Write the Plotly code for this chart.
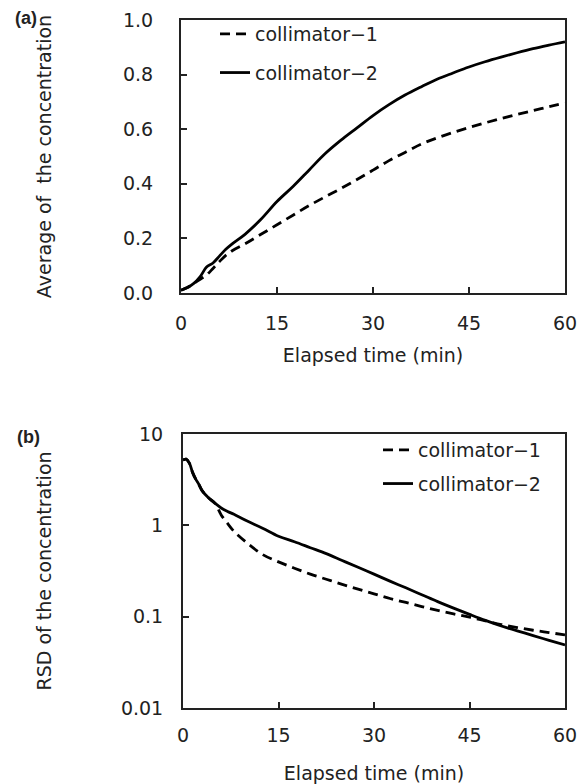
import plotly.graph_objects as go

# ---- data ----
t_avg = [0, 1, 2, 3, 4, 5, 6, 7, 8, 10, 12.5, 15, 17.5, 20, 22.5, 25, 27.5, 30,
         32.5, 35, 37.5, 40, 42.5, 45, 47.5, 50, 52.5, 55, 57.5, 60]
avg_c1 = [0.01, 0.02, 0.035, 0.05, 0.066, 0.09, 0.115, 0.138, 0.155, 0.18, 0.215, 0.25,
          0.285, 0.32, 0.352, 0.383, 0.416, 0.45, 0.485, 0.515, 0.545, 0.568, 0.588, 0.606,
          0.623, 0.639, 0.654, 0.668, 0.682, 0.696]
avg_c2 = [0.01, 0.02, 0.035, 0.06, 0.095, 0.11, 0.135, 0.16, 0.18, 0.215, 0.27, 0.335,
          0.39, 0.45, 0.51, 0.56, 0.605, 0.65, 0.69, 0.725, 0.755, 0.783, 0.806, 0.828,
          0.847, 0.864, 0.88, 0.895, 0.908, 0.92]

t_rsd = [0, 0.5, 1, 1.5, 2, 2.5, 3, 4, 5, 6, 7, 8, 10, 12.5, 15, 17.5, 20, 22.5, 25,
         27.5, 30, 32.5, 35, 37.5, 40, 42.5, 45, 47.5, 50, 52.5, 55, 57.5, 60]
rsd_c1 = [5.2, 5.3, 4.8, 3.8, 3.2, 2.8, 2.4, 2.0, 1.75, 1.3, 1.05, 0.86, 0.646, 0.479,
          0.398, 0.339, 0.292, 0.257, 0.226, 0.2, 0.178, 0.158, 0.143, 0.129, 0.117,
          0.107, 0.099, 0.09, 0.082, 0.076, 0.071, 0.067, 0.063]
rsd_c2 = [5.2, 5.3, 4.8, 3.8, 3.2, 2.8, 2.4, 2.0, 1.75, 1.55, 1.42, 1.32, 1.12, 0.93,
          0.759, 0.661, 0.569, 0.49, 0.412, 0.347, 0.292, 0.245, 0.207, 0.174, 0.146,
          0.124, 0.106, 0.091, 0.079, 0.07, 0.062, 0.055, 0.049]

series_names = ["collimator\u22121", "collimator\u22122"]
x_ticks = [0, 15, 30, 45, 60]
avg_ticks = [0.0, 0.2, 0.4, 0.6, 0.8, 1.0]
avg_ticktext = ["0.0", "0.2", "0.4", "0.6", "0.8", "1.0"]
rsd_ticks = [0.01, 0.1, 1, 10]
rsd_ticktext = ["0.01", "0.1", "1", "10"]

FONT = "DejaVu Sans, Liberation Sans, Arial, sans-serif"
OFF = 8  # page body margin
W, H = 586 - OFF, 784 - OFF


def px(sx):
    return (sx - OFF) / W


def py(sy):
    return 1 - (sy - OFF) / H


fig = go.Figure()
styles = [dict(dash="10px,6px"), dict(dash="solid")]
for name, ys, st, g in zip(series_names, [avg_c1, avg_c2], styles, ["a1", "a2"]):
    fig.add_trace(go.Scatter(x=t_avg, y=ys, mode="lines", name=name, legendgroup=g,
                             line=dict(color="black", width=2.8, shape="spline", **st),
                             xaxis="x", yaxis="y", legend="legend"))
for name, ys, st, g in zip(series_names, [rsd_c1, rsd_c2], styles, ["b1", "b2"]):
    fig.add_trace(go.Scatter(x=t_rsd, y=ys, mode="lines", name=name, legendgroup=g,
                             line=dict(color="black", width=2.8, shape="spline", **st),
                             xaxis="x2", yaxis="y2", legend="legend2"))

axis_common = dict(showline=True, linecolor="#222", linewidth=2, mirror=True,
                   ticks="inside", ticklen=6, tickwidth=2, tickcolor="#222",
                   showgrid=False, zeroline=False, automargin=False,
                   tickfont=dict(family=FONT, size=19, color="#222"))
title_font = dict(size=19, family=FONT, color="#222")
label_font = dict(family="Liberation Sans, Arial, sans-serif", size=18, color="#222")

fig.update_layout(
    width=W, height=H, margin=dict(l=0, r=0, t=0, b=0),
    paper_bgcolor="white", plot_bgcolor="white",
    font=dict(family=FONT, color="#222"),
    xaxis=dict(domain=[px(181), px(565)], anchor="y", range=[0, 60], tickvals=x_ticks,
               ticklabelstandoff=12,
               title=dict(text="Elapsed time (min)", font=title_font, standoff=16),
               **axis_common),
    yaxis=dict(domain=[py(293), py(20)], anchor="x", range=[0, 1.0],
               tickvals=avg_ticks, ticktext=avg_ticktext, ticklabelstandoff=22,
               title=dict(text="Average of  the concentration", font=title_font, standoff=66),
               **axis_common),
    xaxis2=dict(domain=[px(183), px(565)], anchor="y2", range=[0, 60], tickvals=x_ticks,
                ticklabelstandoff=9,
                title=dict(text="Elapsed time (min)", font=title_font, standoff=23),
                **axis_common),
    yaxis2=dict(domain=[py(708), py(434)], anchor="x2", type="log", range=[-2, 1],
                tickvals=rsd_ticks, ticktext=rsd_ticktext, ticklabelstandoff=14,
                title=dict(text="RSD of the concentration", font=title_font, standoff=64),
                **axis_common),
    legend=dict(x=px(215), y=py(15), xanchor="left", yanchor="top",
                bgcolor="rgba(0,0,0,0)", tracegroupgap=11,
                font=dict(family=FONT, size=19, color="#222")),
    legend2=dict(x=px(378), y=py(431), xanchor="left", yanchor="top",
                 bgcolor="rgba(0,0,0,0)", tracegroupgap=6,
                 font=dict(family=FONT, size=19, color="#222")),
    annotations=[
        dict(text="<b>(a)</b>", x=px(13), y=py(18), xref="paper", yref="paper",
             xanchor="left", yanchor="middle", showarrow=False, font=label_font),
        dict(text="<b>(b)</b>", x=px(15), y=py(437), xref="paper", yref="paper",
             xanchor="left", yanchor="middle", showarrow=False, font=label_font),
    ],
    showlegend=True,
)

fig.write_html("out.html")
